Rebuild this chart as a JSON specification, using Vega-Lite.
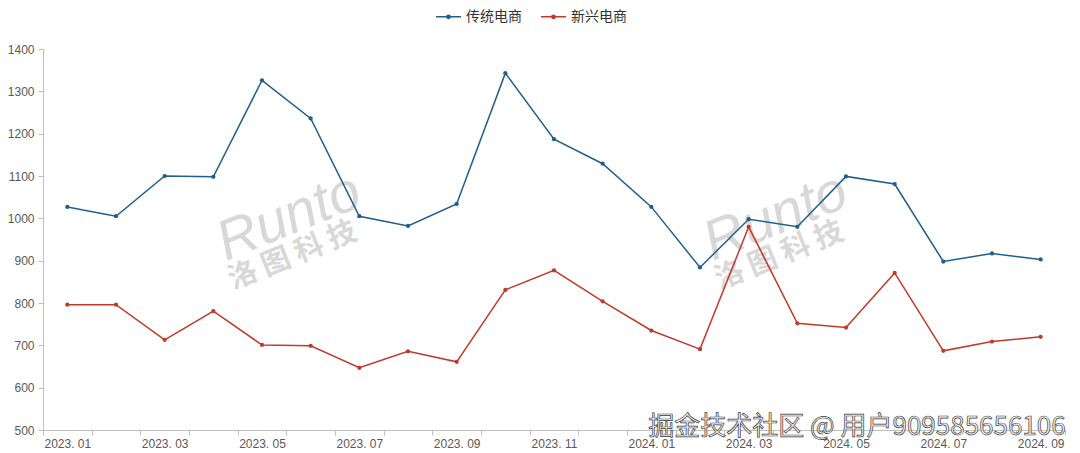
{
  "$schema": "https://vega.github.io/schema/vega-lite/v6.json",
  "width": 1022,
  "height": 381,
  "autosize": {"type": "none"},
  "padding": {"left": 43, "top": 49, "right": 15, "bottom": 23},
  "background": "white",
  "config": {"view": {"stroke": null}, "font": "Liberation Sans"},
  "datasets": {
    "sales": [
      {"month": "2023.01", "series": "传统电商", "value": 1027},
      {"month": "2023.02", "series": "传统电商", "value": 1005},
      {"month": "2023.03", "series": "传统电商", "value": 1100},
      {"month": "2023.04", "series": "传统电商", "value": 1098},
      {"month": "2023.05", "series": "传统电商", "value": 1326},
      {"month": "2023.06", "series": "传统电商", "value": 1236},
      {"month": "2023.07", "series": "传统电商", "value": 1005},
      {"month": "2023.08", "series": "传统电商", "value": 982},
      {"month": "2023.09", "series": "传统电商", "value": 1034},
      {"month": "2023.10", "series": "传统电商", "value": 1343},
      {"month": "2023.11", "series": "传统电商", "value": 1187},
      {"month": "2023.12", "series": "传统电商", "value": 1129},
      {"month": "2024.01", "series": "传统电商", "value": 1027},
      {"month": "2024.02", "series": "传统电商", "value": 884},
      {"month": "2024.03", "series": "传统电商", "value": 998},
      {"month": "2024.04", "series": "传统电商", "value": 980},
      {"month": "2024.05", "series": "传统电商", "value": 1099},
      {"month": "2024.06", "series": "传统电商", "value": 1081},
      {"month": "2024.07", "series": "传统电商", "value": 898},
      {"month": "2024.08", "series": "传统电商", "value": 917},
      {"month": "2024.09", "series": "传统电商", "value": 903},
      {"month": "2023.01", "series": "新兴电商", "value": 796},
      {"month": "2023.02", "series": "新兴电商", "value": 796},
      {"month": "2023.03", "series": "新兴电商", "value": 713},
      {"month": "2023.04", "series": "新兴电商", "value": 781},
      {"month": "2023.05", "series": "新兴电商", "value": 701},
      {"month": "2023.06", "series": "新兴电商", "value": 699},
      {"month": "2023.07", "series": "新兴电商", "value": 647},
      {"month": "2023.08", "series": "新兴电商", "value": 686},
      {"month": "2023.09", "series": "新兴电商", "value": 661},
      {"month": "2023.10", "series": "新兴电商", "value": 831},
      {"month": "2023.11", "series": "新兴电商", "value": 877},
      {"month": "2023.12", "series": "新兴电商", "value": 804},
      {"month": "2024.01", "series": "新兴电商", "value": 735},
      {"month": "2024.02", "series": "新兴电商", "value": 691},
      {"month": "2024.03", "series": "新兴电商", "value": 980},
      {"month": "2024.04", "series": "新兴电商", "value": 752},
      {"month": "2024.05", "series": "新兴电商", "value": 742},
      {"month": "2024.06", "series": "新兴电商", "value": 871},
      {"month": "2024.07", "series": "新兴电商", "value": 687},
      {"month": "2024.08", "series": "新兴电商", "value": 709},
      {"month": "2024.09", "series": "新兴电商", "value": 720}
    ]
  },
  "encoding": {
    "x": {
      "field": "month",
      "type": "ordinal",
      "scale": {"type": "band", "paddingInner": 0, "paddingOuter": 0},
      "axis": {
        "title": null,
        "tickBand": "extent",
        "labelExpr": "toNumber(substring(datum.value, 5, 7)) % 2 == 1 ? replace(datum.value, '.', '. ') : ''",
        "labelAngle": 0,
        "labelOverlap": false,
        "domainColor": "#bfbfbf",
        "tickColor": "#bfbfbf",
        "tickSize": 5,
        "labelFont": "Liberation Sans",
        "labelFontSize": 12,
        "labelColor": "#595959",
        "labelPadding": 3
      }
    },
    "y": {
      "field": "value",
      "type": "quantitative",
      "scale": {"domain": [500, 1400], "nice": false, "zero": false},
      "axis": {
        "title": null,
        "format": "d",
        "values": [500, 600, 700, 800, 900, 1000, 1100, 1200, 1300, 1400],
        "grid": false,
        "domainColor": "#bfbfbf",
        "tickColor": "#bfbfbf",
        "tickSize": 5,
        "labelFont": "Liberation Sans",
        "labelFontSize": 12,
        "labelColor": "#595959",
        "labelPadding": 4
      }
    }
  },
  "layer": [
    {
      "data": {"values": [{"t": "Runto", "month": "2023.05", "value": 977}, {"t": "Runto", "month": "2024.03", "value": 977}]},
      "mark": {"type": "text", "font": "Liberation Sans", "fontStyle": "italic", "fontSize": 56, "angle": 338, "color": "#cccccc", "opacity": 0.75, "align": "center", "baseline": "middle", "dx": 29},
      "encoding": {
        "text": {"field": "t"}
      }
    },
    {
      "data": {"values": [{"t": "洛 图 科 技", "month": "2023.05", "value": 883}, {"t": "洛 图 科 技", "month": "2024.03", "value": 883}]},
      "mark": {"type": "text", "font": "Noto Sans CJK SC", "fontWeight": "bold", "fontSize": 29, "angle": 338, "color": "#cccccc", "opacity": 0.75, "align": "center", "baseline": "middle", "dx": 33},
      "encoding": {
        "text": {"field": "t"}
      }
    },
    {
      "data": {"name": "sales"},
      "mark": {"type": "line", "strokeWidth": 1.5},
      "encoding": {
        "color": {
          "field": "series",
          "type": "nominal",
          "scale": {"domain": ["传统电商", "新兴电商"], "range": ["#1f5f8b", "#c0392b"]},
          "legend": {
            "title": null,
            "orient": "none",
            "legendX": 392,
            "legendY": -46,
            "direction": "horizontal",
            "symbolType": "M-1,0H1M-0.13,0A0.13,0.13 0 1,1 0.13,0A0.13,0.13 0 1,1 -0.13,0Z",
            "symbolSize": 625,
            "symbolStrokeWidth": 1.5,
            "labelFont": "Noto Sans CJK SC",
            "labelFontSize": 14,
            "labelColor": "#333333",
            "labelOffset": 4,
            "columnPadding": 16,
            "encode": {"symbols": {"update": {"fill": {"scale": "color", "field": "value"}, "fillOpacity": {"value": 1}}}}
          }
        }
      }
    },
    {
      "data": {"name": "sales"},
      "mark": {"type": "point", "filled": true, "size": 18, "opacity": 1},
      "encoding": {
        "color": {"field": "series", "type": "nominal", "legend": null}
      }
    },
    {
      "data": {"values": [{"t": "掘金技术社区 @ 用户909585656106", "month": "2024.09", "value": 500}]},
      "mark": {"type": "text", "font": "Noto Sans CJK SC", "fontSize": 26, "align": "right", "baseline": "middle", "fill": "#f2f2f2", "stroke": "#3a3a3a", "strokeWidth": 0.7, "dx": 25, "dy": -3},
      "encoding": {
        "text": {"field": "t"}
      }
    }
  ]
}
